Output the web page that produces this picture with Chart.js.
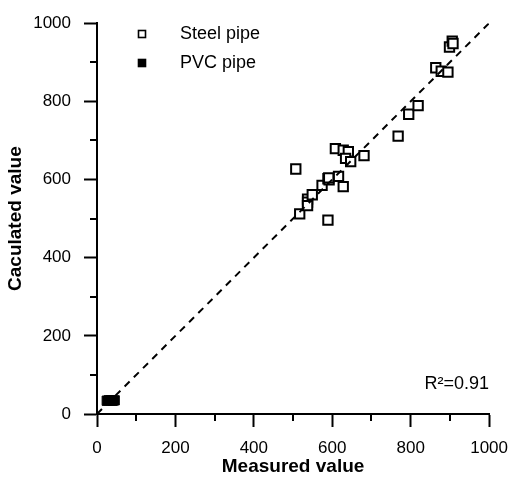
<!DOCTYPE html>
<html>
<head>
<meta charset="utf-8">
<script src="https://cdn.jsdelivr.net/npm/chart.js@4.4.1/dist/chart.umd.min.js"></script>
<style>
  html, body { margin: 0; padding: 0; background: #fff; }
  #wrap { width: 519px; height: 481px; }
</style>
</head>
<body>
<div id="wrap"><canvas id="chart" width="519" height="481"></canvas></div>
<script>
// data
const steelX = [507, 517, 537, 537, 537, 549, 574, 589, 592, 589, 608, 616, 628, 641, 628, 634, 647, 681, 591,
                768, 795, 819, 864, 878, 895, 899, 906, 908];
const steelY = [627, 512, 550, 542, 533, 561, 585, 602, 599, 496, 679, 608, 675, 671, 582, 654, 646, 661, 604,
                711, 767, 789, 886, 877, 875, 939, 954, 948];
const pvcX = [25, 30, 35, 40, 45];
const pvcY = [34, 35, 35, 34, 35];
const lineX = [0, 1000];
const lineY = [0, 1000];
const majorTicks = [0, 200, 400, 600, 800, 1000];
const minorTicks = [100, 300, 500, 700, 900];
const r2Label = "R\u00B2=0.91";

const FONT = "'Liberation Sans', Arial, sans-serif";

function pts(xs, ys) {
  return xs.map((x, i) => ({ x: x, y: ys[i] }));
}

// minor ticks, legend and R2 label
const extras = {
  id: "extras",
  afterDraw(chart) {
    const ctx = chart.ctx;
    const xs = chart.scales.x;
    const ys = chart.scales.y;
    const area = chart.chartArea;
    ctx.save();
    ctx.strokeStyle = "#000";
    ctx.lineWidth = 2;
    minorTicks.forEach((v) => {
      const px = Math.round(xs.getPixelForValue(v));
      ctx.beginPath();
      ctx.moveTo(px, area.bottom);
      ctx.lineTo(px, area.bottom + 7);
      ctx.stroke();
      const py = Math.round(ys.getPixelForValue(v));
      ctx.beginPath();
      ctx.moveTo(area.left, py);
      ctx.lineTo(area.left - 7, py);
      ctx.stroke();
    });

    // legend
    const items = chart.data.datasets.filter((d) => d.inLegend);
    items.forEach((d, i) => {
      const cy = 34 + i * 29;
      ctx.lineWidth = 1.6;
      ctx.strokeStyle = "#000";
      ctx.fillStyle = d.pointBackgroundColor;
      ctx.fillRect(138.5, cy - 3.5, 7, 7);
      ctx.strokeRect(138.5, cy - 3.5, 7, 7);
      ctx.fillStyle = "#000";
      ctx.font = "18px " + FONT;
      ctx.textBaseline = "middle";
      ctx.textAlign = "left";
      ctx.fillText(d.label, 180, cy);
    });

    ctx.font = "18px " + FONT;
    ctx.textAlign = "right";
    ctx.textBaseline = "middle";
    ctx.fillText(r2Label, area.right, 384);
    ctx.restore();
  }
};

const axisCommon = {
  type: "linear",
  min: 0,
  max: 1000,
  afterBuildTicks: (scale) => {
    scale.ticks = majorTicks.map((v) => ({ value: v }));
  },
  grid: {
    drawOnChartArea: false,
    drawTicks: true,
    tickLength: 13,
    tickWidth: 2,
    tickColor: "#000"
  },
  border: { display: true, color: "#000", width: 2 },
  ticks: {
    color: "#000",
    font: { family: FONT, size: 17 },
    callback: (v) => String(v)
  }
};

new Chart(document.getElementById("chart"), {
  type: "scatter",
  data: {
    datasets: [
      {
        label: "1:1",
        type: "line",
        data: pts(lineX, lineY),
        borderColor: "#000",
        borderWidth: 2,
        borderDash: [7, 6],
        pointRadius: 0,
        fill: false,
        inLegend: false
      },
      {
        label: "Steel pipe",
        data: pts(steelX, steelY),
        pointStyle: "rect",
        pointRadius: 6.6,
        pointBorderWidth: 2,
        pointBorderColor: "#000",
        pointBackgroundColor: "#fff",
        inLegend: true
      },
      {
        label: "PVC pipe",
        data: pts(pvcX, pvcY),
        pointStyle: "rect",
        pointRadius: 6.6,
        pointBorderWidth: 1,
        pointBorderColor: "#000",
        pointBackgroundColor: "#000",
        inLegend: true
      }
    ]
  },
  options: {
    responsive: false,
    animation: false,
    layout: { padding: { top: 15, right: 22, left: 0, bottom: 0 } },
    plugins: {
      legend: { display: false },
      tooltip: { enabled: false }
    },
    scales: {
      x: Object.assign({}, axisCommon, {
        position: "bottom",
        afterFit: (scale) => { scale.height = 67; },
        ticks: Object.assign({}, axisCommon.ticks, { padding: 11, maxRotation: 0 }),
        title: {
          display: true,
          text: "Measured value",
          color: "#000",
          font: { family: FONT, size: 19, weight: "bold" },
          padding: { top: 0, bottom: 3 }
        }
      }),
      y: Object.assign({}, axisCommon, {
        position: "left",
        afterFit: (scale) => { scale.width = 97; },
        ticks: Object.assign({}, axisCommon.ticks, { padding: 13 }),
        title: {
          display: true,
          text: "Caculated value",
          color: "#000",
          font: { family: FONT, size: 19, weight: "bold" },
          padding: { top: 4, bottom: 0 }
        }
      })
    }
  },
  plugins: [extras]
});
</script>
</body>
</html>
